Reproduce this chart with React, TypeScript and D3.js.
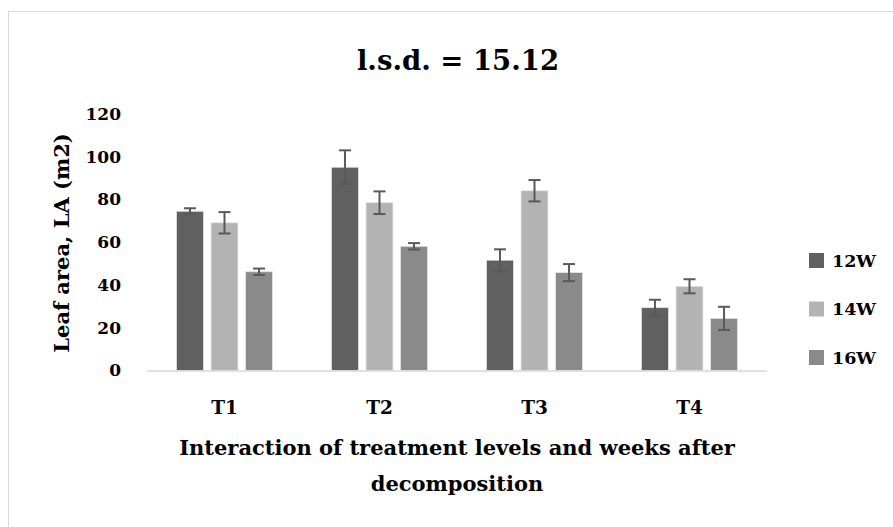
import React from "react";
import * as d3 from "d3";

const categories = ["T1", "T2", "T3", "T4"];
const series = ["12W", "14W", "16W"];
const values12W = [74.5, 95.1, 51.6, 29.4];
const values14W = [69.1, 78.5, 84.1, 39.4];
const values16W = [46.2, 58.1, 45.8, 24.4];
const errors12W = [1.4, 7.9, 5.1, 3.7];
const errors14W = [5.0, 5.3, 5.0, 3.3];
const errors16W = [1.5, 1.5, 4.0, 5.4];
const yTicks = [0, 20, 40, 60, 80, 100, 120];
const colors = ["#606060", "#b3b3b3", "#8a8a8a"];

const W = 893;
const H = 527;
const FONT = "'DejaVu Serif', serif";

export default function App() {
  const valueSets = [values12W, values14W, values16W];
  const errorSets = [errors12W, errors14W, errors16W];
  const x = d3.scaleBand<string>().domain(categories).range([147, 767]);
  const bw = x.bandwidth();
  const xi = d3
    .scaleBand<string>()
    .domain(series)
    .range([bw / 2 - 48, bw / 2 + 48])
    .paddingInner(0.22);
  const y = d3.scaleLinear().domain([0, 120]).range([370.5, 114]);
  const color = d3.scaleOrdinal<string, string>().domain(series).range(colors);
  const capHalf = 6;

  return (
    <svg
      width={W}
      height={H}
      style={{ position: "absolute", left: 0, top: 0, background: "#fff" }}
    >
      <rect x={8.5} y={11.5} width={1000} height={1000} fill="#fff" stroke="#d9d9d9" />
      <text
        x={458}
        y={70}
        textAnchor="middle"
        fontFamily={FONT}
        fontWeight="bold"
        fontSize={27.5}
        fill="#000"
      >
        l.s.d. = 15.12
      </text>
      {yTicks.map((t) => (
        <text
          key={t}
          x={121}
          y={y(t)}
          dy="0.35em"
          textAnchor="end"
          fontFamily={FONT}
          fontWeight="bold"
          fontSize={17}
          fill="#000"
        >
          {t}
        </text>
      ))}
      <text
        transform={`translate(62,243) rotate(-90)`}
        textAnchor="middle"
        dy="0.35em"
        fontFamily={FONT}
        fontWeight="bold"
        fontSize={21}
        fill="#000"
      >
        Leaf area, LA (m2)
      </text>
      {categories.map((c, ci) =>
        series.map((s, si) => {
          const v = valueSets[si][ci];
          const e = errorSets[si][ci];
          const bx = (x(c) as number) + (xi(s) as number);
          const cx = bx + xi.bandwidth() / 2;
          return (
            <g key={c + s}>
              <rect
                x={bx}
                y={y(v)}
                width={xi.bandwidth()}
                height={y(0) - y(v)}
                fill={color(s)}
                stroke="#e6e6e6"
                strokeWidth={0.75}
              />
              <line x1={cx} x2={cx} y1={y(v + e)} y2={y(v - e)} stroke="#595959" strokeWidth={2} />
              <line x1={cx - capHalf} x2={cx + capHalf} y1={y(v + e)} y2={y(v + e)} stroke="#595959" strokeWidth={2} />
              <line x1={cx - capHalf} x2={cx + capHalf} y1={y(v - e)} y2={y(v - e)} stroke="#595959" strokeWidth={2} />
            </g>
          );
        })
      )}
      <line x1={147} x2={767} y1={y(0) + 0.5} y2={y(0) + 0.5} stroke="#d9d9d9" strokeWidth={1.5} />
      {categories.map((c) => (
        <text
          key={c}
          x={(x(c) as number) + bw / 2}
          y={408}
          dy="0.35em"
          textAnchor="middle"
          fontFamily={FONT}
          fontWeight="bold"
          fontSize={18.5}
          fill="#000"
        >
          {c}
        </text>
      ))}
      <text
        x={457}
        y={448}
        dy="0.35em"
        textAnchor="middle"
        fontFamily={FONT}
        fontWeight="bold"
        fontSize={21}
        fill="#000"
      >
        Interaction of treatment levels and weeks after
      </text>
      <text
        x={457}
        y={484}
        dy="0.35em"
        textAnchor="middle"
        fontFamily={FONT}
        fontWeight="bold"
        fontSize={21}
        fill="#000"
      >
        decomposition
      </text>
      {series.map((s, i) => (
        <g key={s} transform={`translate(809,${253 + i * 48.5})`}>
          <rect width={15} height={15} fill={color(s)} />
          <text
            x={23}
            y={7.5}
            dy="0.35em"
            fontFamily={FONT}
            fontWeight="bold"
            fontSize={17.5}
            fill="#000"
          >
            {s}
          </text>
        </g>
      ))}
    </svg>
  );
}
